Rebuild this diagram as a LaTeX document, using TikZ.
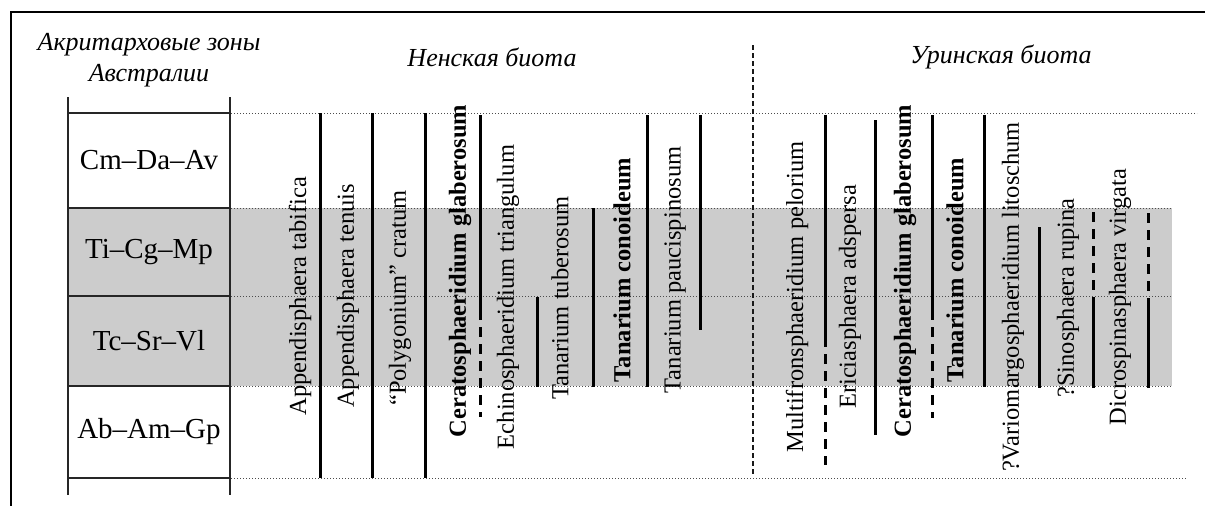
\documentclass[tikz,border=0pt]{standalone}
\usepackage{fontspec}
\setmainfont{Liberation Serif}

\tikzset{
    header/.style = {align = center, font = \fontsize{26}{31}\selectfont\itshape},
    zone/.style = {font = \fontsize{29}{32}\selectfont},
    taxon/.style = {rotate = 90, inner sep = 0pt, font = \fontsize{24.5}{28}\selectfont},
    taxonbold/.style = {taxon, font = \fontsize{24.5}{28}\selectfont\bfseries},
    rangebar/.style = {line width = 3pt},
    rangedash/.style = {line width = 3pt, dash pattern = on 10pt off 7pt},
    levelline/.style = {gray!60!black, line width = 1pt, dash pattern = on 1pt off 2pt},
}

\begin{document}
\begin{tikzpicture}[%
        x = 1pt,
        y = -1pt,
        line cap = butt
    ]
        \useasboundingbox (0, 0) rectangle (1205, 506);

        % Frame along the top and the left.
        \draw[line width = 2.2pt] (11, 506) -- (11, 12) -- (1205, 12);

        % Grey band behind the two middle zones.
        \fill[gray!40] (68, 208) rectangle (1172, 386);

        % Dotted zone levels across the chart.
        \draw[levelline] (135, 113) -- (1197, 113);
        \draw[levelline] (135, 208) -- (1172, 208);
        \draw[levelline] (135, 296) -- (1172, 296);
        \draw[levelline] (135, 386) -- (1172, 386);
        \draw[levelline] (135, 478) -- (1186, 478);

        % Column of the Australian zones.
        \draw[line width = 1.2pt, gray!30!black] (68, 97) -- (68, 495);
        \draw[line width = 1.2pt, gray!30!black] (230, 97) -- (230, 495);
        \draw[line width = 1.2pt, gray!30!black] (68, 113) -- (230, 113);
        \draw[line width = 1.2pt, gray!30!black] (68, 208) -- (230, 208);
        \draw[line width = 1.2pt, gray!30!black] (68, 296) -- (230, 296);
        \draw[line width = 1.2pt, gray!30!black] (68, 386) -- (230, 386);
        \draw[line width = 1.2pt, gray!30!black] (68, 478) -- (230, 478);

        % Dashed border between the two biotas.
        \draw[line width = 1.1pt, gray!20!black, dash pattern = on 5pt off 3pt] (753, 45) -- (753, 476);

        % Headings.
        \node[header] (zonehead) at (149, 60) {Акритарховые зоны\\Австралии};
        \node[header] (nenhead) at (492, 57) {Ненская биота};
        \node[header] (urhead) at (1001, 57) {Уринская биота};

        % Zone names.
        \node[zone] (zcm) at (149, 160) {Cm--Da--Av};
        \node[zone] (zti) at (149, 252) {Ti--Cg--Mp};
        \node[zone] (ztc) at (149, 341) {Tc--Sr--Vl};
        \node[zone] (zab) at (149, 432) {Ab--Am--Gp};

        % Nenskaya biota: ranges.
        \draw[rangebar] (320, 113) -- (320, 478);
        \draw[rangebar] (372, 113) -- (372, 478);
        \draw[rangebar] (425, 113) -- (425, 478);
        \draw[rangebar] (480, 115) -- (480, 310);
        \draw[rangedash] (480, 310) -- (480, 417);
        \draw[rangebar] (537, 297) -- (537, 387);
        \draw[rangebar] (593, 208) -- (593, 387);
        \draw[rangebar] (647, 115) -- (647, 387);
        \draw[rangebar] (700, 115) -- (700, 330);

        % Nenskaya biota: taxa.
        \node[taxon] (apptab) at (300, 296) {Appendisphaera tabifica};
        \node[taxon] (appten) at (348, 296) {Appendisphaera tenuis};
        \node[taxon] (polcra) at (400, 298) {``Polygonium'' cratum};
        \node[taxonbold] (cergla) at (460, 271) {Ceratosphaeridium glaberosum};
        \node[taxon] (echtri) at (508, 297) {Echinosphaeridium triangulum};
        \node[taxon] (tantub) at (560, 298) {Tanarium tuberosum};
        \node[taxonbold] (tancon) at (622, 270) {Tanarium conoideum};
        \node[taxon] (tanpau) at (675, 270) {Tanarium paucispinosum};

        % Urinskaya biota: ranges.
        \draw[rangebar] (825, 115) -- (825, 337);
        \draw[rangedash] (825, 337) -- (825, 465);
        \draw[rangebar] (875, 120) -- (875, 435);
        \draw[rangebar] (932, 115) -- (932, 310);
        \draw[rangedash] (932, 310) -- (932, 418);
        \draw[rangebar] (984, 115) -- (984, 387);
        \draw[rangebar] (1039, 227) -- (1039, 388);
        \draw[rangedash] (1093, 212) -- (1093, 300);
        \draw[rangebar] (1093, 300) -- (1093, 388);
        \draw[rangedash] (1148, 213) -- (1148, 300);
        \draw[rangebar] (1148, 300) -- (1148, 388);

        % Urinskaya biota: taxa.
        \node[taxon] (mulpel) at (797, 297) {Multifronsphaeridium pelorium};
        \node[taxon] (eriads) at (850, 297) {Ericiasphaera adspersa};
        \node[taxonbold] (cergla2) at (905, 271) {Ceratosphaeridium glaberosum};
        \node[taxonbold] (tancon2) at (955, 270) {Tanarium conoideum};
        \node[taxon] (varlit) at (1013, 297) {?Variomargosphaeridium litoschum};
        \node[taxon] (sinrup) at (1068, 298) {?Sinosphaera rupina};
        \node[taxon] (dicvir) at (1120, 297) {Dicrospinasphaera virgata};
    \end{tikzpicture}
\end{document}
